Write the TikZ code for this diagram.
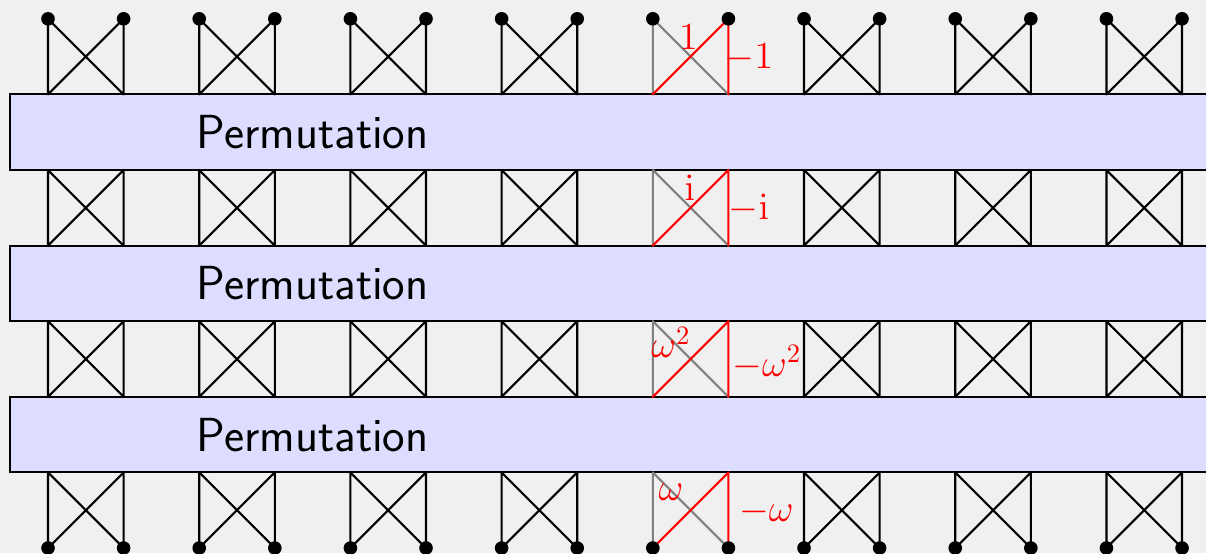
\documentclass[tikz,border=0pt]{standalone}
\definecolor{bgc}{HTML}{F0F0F0}
\definecolor{permblue}{HTML}{DDDDFF}
\definecolor{midgray}{HTML}{808080}
\begin{document}
\begin{tikzpicture}[x=1cm,y=1cm,
  ln/.style={line width=0.8pt, line cap=round},
  perm/.style={draw=black, line width=0.8pt, fill=permblue},
  permtext/.style={font=\sffamily\fontsize{18}{22}\selectfont},
  lbl/.style={text=red, inner sep=0pt, font=\fontsize{14.4}{17}\selectfont},
  dotnode/.style={circle, fill=black, inner sep=0pt, minimum size=0.18cm}]
\useasboundingbox (-0.635,-0.066) rectangle (15.317,7.249);
\clip (-0.635,-0.066) rectangle (15.317,7.249);
\fill[bgc] (-0.635,-0.066) rectangle (15.317,7.249);
% permutation boxes
\foreach \y/\n in {5/p1,3/p2,1/p3}{
  \draw[perm] (-0.5,\y) rectangle (16,\y+1);
  \node[permtext] (\n) at (3.5,\y+0.5) {Permutation};
}
% butterflies
\foreach \b in {0,2,4,6}{
  \foreach \x in {0,2,4,6,10,12,14}{
    \coordinate (bl) at (\x,\b); \coordinate (br) at (\x+1,\b);
    \coordinate (tl) at (\x,\b+1); \coordinate (tr) at (\x+1,\b+1);
    \draw[ln] (bl) -- (tl) (br) -- (tr) (bl) -- (tr) (tl) -- (br);
  }
  \coordinate (bl) at (8,\b); \coordinate (br) at (9,\b);
  \coordinate (tl) at (8,\b+1); \coordinate (tr) at (9,\b+1);
  \draw[ln, midgray] (bl) -- (tl) (tl) -- (br);
  \draw[ln, red] (bl) -- (tr) (br) -- (tr);
}
% labels
\node[lbl] (l1) at (8.47,6.76) {$1$};
\node[lbl] (m1) at (9.27,6.49) {$-1$};
\node[lbl] (l2) at (8.49,4.76) {$\mathrm{i}$};
\node[lbl] (m2) at (9.27,4.49) {$-\mathrm{i}$};
\node[lbl] (l3) at (8.24,2.72) {$\omega^2$};
\node[lbl] (m3) at (9.51,2.45) {$-\omega^2$};
\node[lbl] (l4) at (8.24,0.74) {$\omega$};
\node[lbl] (m4) at (9.5,0.48) {$-\omega$};
% dots
\foreach \x in {0,2,4,6,8,10,12,14}{
  \node[dotnode] (t\x) at (\x,7) {};
  \node[dotnode] (u\x) at (\x+1,7) {};
  \node[dotnode] (d\x) at (\x,0) {};
  \node[dotnode] (e\x) at (\x+1,0) {};
}
\end{tikzpicture}
\end{document}
